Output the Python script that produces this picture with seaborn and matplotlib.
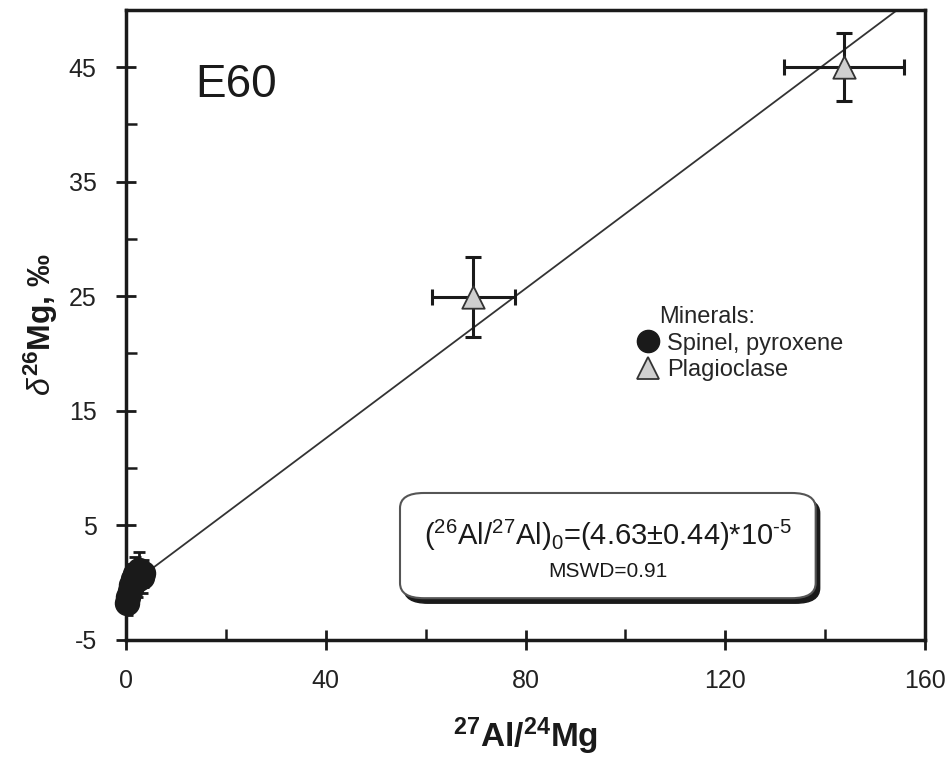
import numpy as np
import pandas as pd
import matplotlib
matplotlib.use("Agg")
import matplotlib.pyplot as plt
import seaborn as sns
from matplotlib.patches import FancyBboxPatch
from matplotlib.ticker import MultipleLocator, FixedLocator
from matplotlib.lines import Line2D

# ---- data ----
spinel_x = [0.3, 0.5, 0.8, 1.1, 1.5, 1.9, 2.3, 2.7, 3.2, 3.5]
spinel_y = [-1.8, -1.3, -0.7, -0.2, 0.3, 0.7, 0.2, 1.1, 0.5, 0.8]
spinel_yerr = [1.0, 1.0, 1.2, 1.5, 1.3, 1.5, 1.5, 1.6, 1.4, 1.2]
spinel_xerr = [0.3, 0.3, 0.3, 0.3, 0.3, 0.3, 0.3, 0.3, 0.3, 0.3]

plag_x = [69.5, 143.7]
plag_y = [24.9, 45.0]
plag_xerr = [8.3, 12.0]
plag_yerr = [3.5, 3.0]

iso_slope = 0.327
iso_intercept = -0.5

x_ticks = [0, 40, 80, 120, 160]
y_ticks = [-5, 5, 15, 25, 35, 45]

sns.set_theme(style="white")
plt.rcParams['font.family'] = ['Liberation Sans', 'DejaVu Sans']
plt.rcParams['mathtext.fontset'] = 'custom'
plt.rcParams['mathtext.rm'] = 'Liberation Sans'
plt.rcParams['mathtext.bf'] = 'Liberation Sans:bold'
plt.rcParams['mathtext.it'] = 'Liberation Sans:italic'

fig = plt.figure(figsize=(9.46, 7.58), dpi=100)
ax = fig.add_axes([0.133, 0.156, 0.845, 0.831])

df_sp = pd.DataFrame({"x": spinel_x, "y": spinel_y, "Mineral": "Spinel, pyroxene"})
df_pl = pd.DataFrame({"x": plag_x, "y": plag_y, "Mineral": "Plagioclase"})

# isochron line
xl = np.array([0, (50 - iso_intercept) / iso_slope])
sns.lineplot(x=xl, y=iso_slope * xl + iso_intercept, ax=ax, color="#333333", lw=1.3, zorder=2)

# error bars
ax.errorbar(spinel_x, spinel_y, xerr=spinel_xerr, yerr=spinel_yerr, fmt="none",
            ecolor="#1a1a1a", elinewidth=2, capsize=4, capthick=2, zorder=3)
ax.errorbar(plag_x, plag_y, xerr=plag_xerr, yerr=plag_yerr, fmt="none",
            ecolor="#1a1a1a", elinewidth=2.2, capsize=6, capthick=2.2, zorder=3)

sns.scatterplot(data=df_sp, x="x", y="y", ax=ax, marker="o", s=300, color="#1a1a1a",
                edgecolor="#1a1a1a", linewidth=1, zorder=4, legend=False, clip_on=False)
sns.scatterplot(data=df_pl, x="x", y="y", ax=ax, marker="^", s=260, color="#cfcfcf",
                edgecolor="#333333", linewidth=1.3, zorder=5, legend=False)

ax.set_xlim(0, 160)
ax.set_ylim(-5, 50)
ax.xaxis.set_major_locator(FixedLocator(x_ticks))
ax.xaxis.set_minor_locator(MultipleLocator(20))
ax.yaxis.set_major_locator(FixedLocator(y_ticks))
ax.yaxis.set_minor_locator(FixedLocator([0, 10, 20, 30, 40]))
ax.set_xticklabels([str(t) for t in x_ticks])
ax.set_yticklabels([str(t) for t in y_ticks])
ax.tick_params(axis="both", which="major", direction="inout", length=14, width=2,
               labelsize=18, colors="#1a1a1a", left=True, bottom=True)
ax.tick_params(axis="x", which="major", pad=14)
ax.tick_params(axis="y", which="major", pad=14)
ax.tick_params(axis="x", which="minor", direction="in", length=8, width=1.8,
               bottom=True, colors="#1a1a1a")
ax.tick_params(axis="y", which="minor", direction="in", length=8, width=1.8,
               left=True, colors="#1a1a1a")
ax.tick_params(axis="both", labelcolor="#222222")
for s in ax.spines.values():
    s.set_linewidth(2.5)
    s.set_color("#1a1a1a")
    s.set_visible(True)

ax.set_xlabel(r"$^{\mathbf{27}}$Al/$^{\mathbf{24}}$Mg", fontsize=24, fontweight="bold",
              labelpad=16, color="#1a1a1a")
ax.set_ylabel(r"$\delta^{\mathbf{26}}$Mg, ‰", fontsize=23, fontweight="bold",
              labelpad=6, color="#1a1a1a")

ax.text(13.8, 43.4, "E60", fontsize=33, color="#1a1a1a", va="center", ha="left")

# legend
handles = [Line2D([], [], marker="o", ls="none", color="#1a1a1a", markersize=16),
           Line2D([], [], marker="^", ls="none", markerfacecolor="#cfcfcf",
                  markeredgecolor="#333333", markersize=16, markeredgewidth=1.3)]
leg = ax.legend(handles, ["Spinel, pyroxene", "Plagioclase"], title="Minerals:",
                loc="upper left", bbox_to_anchor=(0.625, 0.545), frameon=False,
                fontsize=17, title_fontsize=17, handletextpad=0.25, labelspacing=0.2,
                borderaxespad=0, handlelength=1.1)
leg._legend_box.align = "left"
leg.get_title().set_position((24, 0))

# isochron box with shadow
bx, by, bw, bh = 0.343, 0.066, 0.52, 0.167
shadow = FancyBboxPatch((bx + 0.005, by - 0.008), bw, bh, boxstyle="round,pad=0,rounding_size=0.03",
                        transform=ax.transAxes, facecolor="#1a1a1a", edgecolor="#1a1a1a", zorder=6,
                        mutation_aspect=0.8)
box = FancyBboxPatch((bx, by), bw, bh, boxstyle="round,pad=0,rounding_size=0.03",
                     transform=ax.transAxes, facecolor="white", edgecolor="#555555", lw=1.5, zorder=7,
                     mutation_aspect=0.8)
ax.add_patch(shadow)
ax.add_patch(box)
ax.text(bx + bw / 2, by + bh * 0.6,
        r"($^{26}$Al/$^{27}$Al)$_0$=(4.63±0.44)*10$^{\text{-}5}$",
        transform=ax.transAxes, ha="center", va="center", fontsize=21, color="#1a1a1a", zorder=8)
ax.text(bx + bw / 2, by + bh * 0.25, "MSWD=0.91", transform=ax.transAxes,
        ha="center", va="center", fontsize=15, color="#1a1a1a", zorder=8)

fig.savefig("out.png", dpi=100)
